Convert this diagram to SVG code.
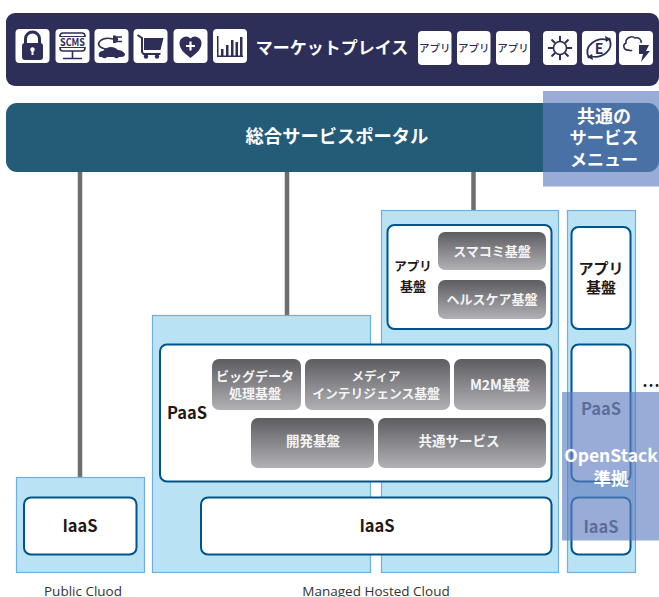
<svg xmlns="http://www.w3.org/2000/svg" width="659" height="597" viewBox="0 0 659 597">
<style>
text{font-family:"Noto Sans CJK JP","Noto Sans",sans-serif;text-anchor:middle}
.cloud{fill:#b9e3f4;stroke:#6fb0dc;stroke-width:1.2}
.panel{fill:#fff;stroke:#00548c;stroke-width:2}
.box{fill:url(#g)}
.bt{fill:#f4f4f4;font-size:13px;font-weight:700}
.k{fill:#231815;font-weight:700}
.w{fill:#fff;font-weight:700}
.ic{fill:#fff}
.ln{fill:none;stroke:#2d2f58;stroke-width:1.6}
.sf{fill:#2d2f58}
.ov{fill:#607dc0;fill-opacity:.64}
.cap{fill:#333;font-size:13.5px;font-family:"Open Sans","Noto Sans",sans-serif}
.app{fill:#2d2f58;font-size:10.5px;font-weight:500}
</style>
<defs><linearGradient id="g" x1="0" y1="0" x2="0" y2="1"><stop offset="0" stop-color="#5d5d61"/><stop offset="1" stop-color="#b2b2b6"/></linearGradient></defs>
<g id="bar-market"><rect x="6" y="13" width="653" height="73" rx="9" fill="#2d2f58"/>
<text class="w" x="332" y="54" font-size="17">マーケットプレイス</text></g>
<g id="bar-portal"><rect x="6" y="103" width="653" height="69" rx="11" fill="#245c78"/>
<text class="w" x="337" y="143" font-size="18.300">総合サービスポータル</text></g>
<g id="connectors" stroke="#6e6e70" stroke-width="4.5" fill="none"><path d="M80 172V477M287 172V315M473.500 172V210"/></g>
<g id="cloud-public"><rect class="cloud" x="16.500" y="477.500" width="128" height="95"/><text class="cap" x="83" y="596">Public Cluod</text></g>
<g id="cloud-managed"><rect class="cloud" x="152.500" y="315.500" width="218" height="257"/><rect class="cloud" x="381.500" y="210.500" width="177" height="362"/><text class="cap" x="376" y="596">Managed Hosted Cloud</text></g>
<g id="cloud-other"><rect class="cloud" x="567.500" y="210.500" width="68" height="362"/></g>
<g id="iaas-public"><rect class="panel" x="24" y="497.500" width="112.500" height="57" rx="7"/><text class="k" x="80" y="532" font-size="16.500">IaaS</text></g>
<g id="iaas-managed"><rect class="panel" x="201" y="497.500" width="350.500" height="57" rx="7"/><text class="k" x="377" y="532" font-size="16.500">IaaS</text></g>
<g id="paas"><rect class="panel" x="160" y="344.500" width="391.500" height="137" rx="7"/><text class="k" x="187" y="419" font-size="16.500">PaaS</text>
<rect class="box" x="212" y="359" width="89" height="51" rx="7"/><text class="bt" x="255" y="381">ビッグデータ</text><text class="bt" x="255" y="398">処理基盤</text>
<rect class="box" x="305" y="359" width="145" height="51" rx="7"/><text class="bt" x="376" y="381" style="font-size:12.500px">メディア</text><text class="bt" x="376" y="398" style="font-size:12.800px">インテリジェンス基盤</text>
<rect class="box" x="454" y="359" width="92" height="51" rx="7"/><text class="bt" x="500" y="390" style="font-size:14px">M2M基盤</text>
<rect class="box" x="251" y="418" width="123" height="50" rx="7"/><text class="bt" x="313" y="446" style="font-size:13.500px">開発基盤</text>
<rect class="box" x="378" y="418" width="168" height="50" rx="7"/><text class="bt" x="459" y="446" style="font-size:13.500px">共通サービス</text></g>
<g id="app-platform"><rect class="panel" x="387.500" y="225" width="164" height="104" rx="7"/><text class="k" x="413" y="271" font-size="12.500">アプリ</text><text class="k" x="413" y="291" font-size="13">基盤</text>
<rect class="box" x="438" y="232" width="108" height="38" rx="7"/><text class="bt" x="492" y="256">スマコミ基盤</text>
<rect class="box" x="438" y="280" width="108" height="39" rx="7"/><text class="bt" x="492" y="304">ヘルスケア基盤</text></g>
<g id="other-app"><rect class="panel" x="571.500" y="227" width="59" height="102" rx="7"/><text class="k" x="601" y="274" font-size="15">アプリ</text><text class="k" x="601" y="293" font-size="15">基盤</text></g>
<g id="other-paas"><rect class="panel" x="571.500" y="344.500" width="59" height="137" rx="7"/><text x="601" y="415" font-size="16.500" font-weight="700" fill="#555">PaaS</text></g>
<g id="other-iaas"><rect class="panel" x="571.500" y="497.500" width="59" height="57" rx="7"/><text x="601" y="533" font-size="16.500" font-weight="700" fill="#555">IaaS</text></g>
<text class="k" x="651" y="392" font-size="18">…</text>
<g id="overlay-openstack"><rect class="ov" x="562" y="392" width="97" height="148.500"/>
<text class="w" x="611" y="462" font-size="17.500">OpenStack</text><text class="w" x="611" y="485" font-size="17.500">準拠</text></g>
<g id="overlay-menu"><rect class="ov" x="543" y="91" width="116" height="95.500"/>
<text class="w" x="604" y="123" font-size="18">共通の</text><text class="w" x="604" y="144" font-size="17.300">サービス</text><text class="w" x="604" y="166" font-size="17">メニュー</text></g>
<g id="icon-lock"><rect class="ic" x="15.500" y="29" width="34" height="34" rx="4"/><path class="ln" style="stroke-width:3" d="M25.500 46v-7a7 7 0 0 1 14 0v7"/><rect class="sf" x="22" y="43" width="21" height="17" rx="3"/><circle class="ic" cx="32.500" cy="49.500" r="2.200"/><rect class="ic" x="31.500" y="50" width="2" height="5"/></g>
<g id="icon-scms"><rect class="ic" x="55.500" y="29" width="34" height="34" rx="4"/><rect class="ln" x="60" y="33" width="25" height="18" rx="3"/><path class="ln" d="M60 36.500h25M60 47.500h25" style="stroke-width:1"/><rect class="ic" x="58" y="37" width="29" height="10"/><text x="72.500" y="46" font-size="10" font-weight="700" fill="#2d2f58" textLength="25" lengthAdjust="spacingAndGlyphs">SCMS</text><path class="ln" d="M72.500 51v7M63 58.500h19"/></g>
<g id="icon-ev"><rect class="ic" x="94.500" y="29" width="34" height="34" rx="4"/><path class="sf" d="M99 56c-1-3 1-5 4-5 4-5 11-5 15-1 3 0 6 2 7 4 0 2-1 3-4 3h-2a3 3 0 0 1-5 0h-7a3 3 0 0 1-5 0h-2c-1 0-1-1-1-1z"/><path class="ln" d="M106 49c-7-1-9-5-6-8 3-3 9-3 13-2"/><path class="sf" d="M113 35.500h2.500a4 4 0 0 1 0 7.500H113z"/><path class="ln" d="M117 37h5M117 41.500h5"/></g>
<g id="icon-cart"><rect class="ic" x="133.500" y="29" width="34" height="34" rx="4"/><path class="ln" style="stroke-width:2" d="M137.500 35l4.500 3v14l1.500 2h17"/><path class="sf" d="M144 38h19.500l-3 12H144z"/><circle class="sf" cx="146" cy="56.500" r="2.200"/><circle class="sf" cx="157" cy="56.500" r="2.200"/></g>
<g id="icon-heart"><rect class="ic" x="173.500" y="29" width="34" height="34" rx="4"/><path class="sf" d="M190.500 58c-8-6-11-10-11-15a6.500 6.500 0 0 1 11-4.500a6.500 6.500 0 0 1 11 4.500c0 5-3 9-11 15z"/><path d="M190.500 41.500v9M186 46h9" stroke="#fff" stroke-width="2.200" fill="none"/></g>
<g id="icon-chart"><rect class="ic" x="213" y="29" width="34" height="34" rx="4"/><path class="sf" d="M217 36h1.500v20H217zM217 55.500h26v1.500h-26zM221 49h2.500v6.500H221zM226 45h2.500v10.500H226zM231 40h2.500v15.500H231zM235.500 42h2.500v13.500h-2.500zM240 37h2.500v18.500H240z"/></g>
<g id="icon-app1"><rect class="ic" x="418" y="31" width="33.500" height="34" rx="4"/><text class="app" x="434.700" y="52">アプリ</text></g>
<g id="icon-app2"><rect class="ic" x="457" y="31" width="33.500" height="34" rx="4"/><text class="app" x="473.700" y="52">アプリ</text></g>
<g id="icon-app3"><rect class="ic" x="496" y="31" width="34" height="34" rx="4"/><text class="app" x="513" y="52">アプリ</text></g>
<g id="icon-sun"><rect class="ic" x="543" y="31" width="34" height="34" rx="4"/><circle class="ln" cx="560" cy="48" r="6.500"/><path class="ln" style="stroke-width:2" d="M560 36v5M560 55v5M548 48h5M567 48h5M551.500 39.500l3.500 3.500M565 53l3.500 3.500M551.500 56.500l3.500-3.500M565 43l3.500-3.500"/></g>
<g id="icon-eco"><rect class="ic" x="582" y="31" width="34" height="34" rx="4"/><path class="ln" style="stroke-width:1.800" d="M589 58c-3-6-2-11 3-15 4-3 10-5 15-3M609 38c3 6 2 11-3 15-4 3-10 5-15 3"/><path class="sf" d="M605 36l6 3-5 3zM593 60l-6-3 5-3z"/><text x="599" y="54" font-size="14" font-weight="700" fill="#2d2f58">E</text></g>
<g id="icon-cloud"><rect class="ic" x="619" y="31" width="34" height="34" rx="4"/><path class="ln" d="M632 50c-1 1-2 1-3 0-5 1-7-5-3-7-1-5 6-8 9-5 4-1 7 2 6 5"/><path class="sf" d="M639 45h10l-3 6h4l-9 11 2-8h-4z"/></g>
</svg>
